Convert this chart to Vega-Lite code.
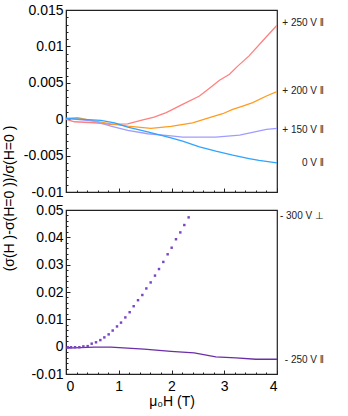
{
  "$schema": "https://vega.github.io/schema/vega-lite/v6.json",
  "padding": {"left": 1, "top": 2, "right": 5, "bottom": 5},
  "background": "white",
  "config": {
    "font": "Liberation Sans",
    "view": {"stroke": "#222", "strokeWidth": 1.2},
    "axis": {"labelFontSize": 14, "labelColor": "#000", "titleFontSize": 14, "titleFontWeight": "normal", "titleColor": "#000", "tickColor": "#222", "domainColor": "#222", "grid": false}
  },
  "datasets": {
    "top": [
      {"x": 0, "y": 0.0, "s": "250"}, {"x": 0.16, "y": -0.00035, "s": "250"}, {"x": 0.54, "y": -0.00049, "s": "250"}, {"x": 0.85, "y": -0.00071, "s": "250"}, {"x": 1.17, "y": -0.00063, "s": "250"}, {"x": 1.42, "y": -0.00016, "s": "250"}, {"x": 1.67, "y": 0.0003, "s": "250"}, {"x": 1.9, "y": 0.0009, "s": "250"}, {"x": 2.21, "y": 0.00204, "s": "250"}, {"x": 2.53, "y": 0.00319, "s": "250"}, {"x": 2.72, "y": 0.00425, "s": "250"}, {"x": 2.91, "y": 0.00535, "s": "250"}, {"x": 3.1, "y": 0.00618, "s": "250"}, {"x": 3.24, "y": 0.00719, "s": "250"}, {"x": 3.47, "y": 0.0087, "s": "250"}, {"x": 3.73, "y": 0.01077, "s": "250"}, {"x": 4.0, "y": 0.0129, "s": "250"},
      {"x": 0, "y": 0.00012, "s": "200"}, {"x": 0.22, "y": 0.0002, "s": "200"}, {"x": 0.54, "y": -0.00026, "s": "200"}, {"x": 0.85, "y": -0.00063, "s": "200"}, {"x": 1.17, "y": -0.00095, "s": "200"}, {"x": 1.61, "y": -0.00126, "s": "200"}, {"x": 1.99, "y": -0.001, "s": "200"}, {"x": 2.4, "y": -0.00049, "s": "200"}, {"x": 2.72, "y": 0.0002, "s": "200"}, {"x": 2.97, "y": 0.00075, "s": "200"}, {"x": 3.16, "y": 0.00135, "s": "200"}, {"x": 3.35, "y": 0.00181, "s": "200"}, {"x": 3.54, "y": 0.00227, "s": "200"}, {"x": 3.8, "y": 0.00319, "s": "200"}, {"x": 4.0, "y": 0.0038, "s": "200"},
      {"x": 0, "y": 0.0001, "s": "150"}, {"x": 0.54, "y": -0.00026, "s": "150"}, {"x": 0.85, "y": -0.00095, "s": "150"}, {"x": 1.17, "y": -0.00154, "s": "150"}, {"x": 1.55, "y": -0.002, "s": "150"}, {"x": 1.99, "y": -0.0023, "s": "150"}, {"x": 2.21, "y": -0.00246, "s": "150"}, {"x": 2.84, "y": -0.00246, "s": "150"}, {"x": 3.29, "y": -0.0022, "s": "150"}, {"x": 3.8, "y": -0.0014, "s": "150"}, {"x": 4.0, "y": -0.00126, "s": "150"},
      {"x": 0, "y": 0.0001, "s": "0"}, {"x": 0.66, "y": -0.00016, "s": "0"}, {"x": 0.92, "y": -0.00049, "s": "0"}, {"x": 1.17, "y": -0.00108, "s": "0"}, {"x": 1.55, "y": -0.00173, "s": "0"}, {"x": 1.99, "y": -0.00256, "s": "0"}, {"x": 2.21, "y": -0.003, "s": "0"}, {"x": 2.53, "y": -0.0038, "s": "0"}, {"x": 2.84, "y": -0.0044, "s": "0"}, {"x": 3.16, "y": -0.00494, "s": "0"}, {"x": 3.47, "y": -0.0054, "s": "0"}, {"x": 3.66, "y": -0.00567, "s": "0"}, {"x": 4.0, "y": -0.006, "s": "0"}
    ],
    "topLabels": [
      {"x": 4.89, "y": 0.01325, "t": "+ 250 V ‖"},
      {"x": 4.89, "y": 0.00388, "t": "+ 200 V ‖"},
      {"x": 4.89, "y": -0.00146, "t": "+ 150 V ‖"},
      {"x": 4.89, "y": -0.006, "t": "0 V ‖"}
    ],
    "bottomLine": [
      {"x": 0, "y": -0.0005}, {"x": 0.54, "y": -0.0002}, {"x": 0.85, "y": -0.0002}, {"x": 1.48, "y": -0.0009}, {"x": 1.99, "y": -0.0017}, {"x": 2.43, "y": -0.0023}, {"x": 2.84, "y": -0.0037}, {"x": 3.22, "y": -0.0041}, {"x": 3.6, "y": -0.0046}, {"x": 4.0, "y": -0.0046}
    ],
    "bottomDots": [
      {"x": 0.032, "y": -0.0002}, {"x": 0.095, "y": -0.0002}, {"x": 0.171, "y": -0.0002}, {"x": 0.253, "y": -0.0002}, {"x": 0.329, "y": 0.0001}, {"x": 0.411, "y": 0.0002}, {"x": 0.487, "y": 0.0011}, {"x": 0.569, "y": 0.0016}, {"x": 0.651, "y": 0.0024}, {"x": 0.727, "y": 0.0034}, {"x": 0.809, "y": 0.0045}, {"x": 0.885, "y": 0.0059}, {"x": 0.967, "y": 0.0074}, {"x": 1.043, "y": 0.0088}, {"x": 1.125, "y": 0.0107}, {"x": 1.207, "y": 0.0126}, {"x": 1.283, "y": 0.0148}, {"x": 1.365, "y": 0.017}, {"x": 1.447, "y": 0.0189}, {"x": 1.523, "y": 0.0213}, {"x": 1.605, "y": 0.0235}, {"x": 1.687, "y": 0.026}, {"x": 1.763, "y": 0.0284}, {"x": 1.845, "y": 0.031}, {"x": 1.927, "y": 0.0338}, {"x": 2.003, "y": 0.0362}, {"x": 2.085, "y": 0.0393}, {"x": 2.167, "y": 0.0418}, {"x": 2.243, "y": 0.0445}, {"x": 2.325, "y": 0.0473}
    ],
    "bottomLabels": [
      {"x": 4.89, "y": 0.0478, "t": "- 300 V ⊥"},
      {"x": 4.89, "y": -0.0047, "t": "- 250 V ‖"}
    ]
  },
  "vconcat": [
    {
      "width": 211,
      "height": 182,
      "layer": [
        {
          "data": {"name": "top"},
          "mark": {"type": "line", "strokeWidth": 1.3, "clip": true},
          "encoding": {
            "x": {"field": "x", "type": "quantitative", "scale": {"domain": [0, 4], "nice": false, "zero": false},
              "axis": {"values": [0, 1, 2, 3, 4], "labels": false, "tickSize": -4, "title": null, "domain": true}},
            "y": {"field": "y", "type": "quantitative", "scale": {"domain": [-0.01, 0.015], "nice": false, "zero": false},
              "axis": {"values": [-0.01, -0.005, 0, 0.005, 0.01, 0.015], "labelExpr": "'' + datum.value", "tickSize": -4, "labelPadding": 7,
                "title": "(σ(H )-σ(H=0 ))/σ(H=0 )", "titleX": -57, "titleY": 188, "titleAngle": -90, "titleAlign": "center", "titleBaseline": "middle"}},
            "color": {"field": "s", "type": "nominal", "scale": {"domain": ["250", "200", "150", "0"], "range": ["#ff8080", "#ff9c1e", "#9f9cff", "#2ea4ff"]}, "legend": null}
          }
        },
        {
          "data": {"name": "topLabels"},
          "mark": {"type": "text", "align": "right", "baseline": "middle", "fontSize": 10, "color": "#222"},
          "encoding": {
            "x": {"field": "x", "type": "quantitative", "scale": {"domain": [0, 4], "nice": false, "zero": false},
              "axis": {"orient": "bottom", "values": [0.2, 0.4, 0.6, 0.8, 1.2, 1.4, 1.6, 1.8, 2.2, 2.4, 2.6, 2.8, 3.2, 3.4, 3.6, 3.8], "labels": false, "tickSize": -2, "domain": false, "title": null}},
            "y": {"field": "y", "type": "quantitative", "scale": {"domain": [-0.01, 0.015], "nice": false, "zero": false},
              "axis": {"orient": "left", "values": [-0.009, -0.008, -0.007, -0.006, -0.004, -0.003, -0.002, -0.001, 0.001, 0.002, 0.003, 0.004, 0.006, 0.007, 0.008, 0.009, 0.011, 0.012, 0.013, 0.014], "labels": false, "tickSize": -2, "domain": false, "title": null}},
            "text": {"field": "t", "type": "nominal"}
          }
        }
      ],
      "resolve": {"axis": {"x": "independent", "y": "independent"}}
    },
    {
      "width": 211,
      "height": 164,
      "layer": [
        {
          "data": {"name": "bottomLine"},
          "mark": {"type": "line", "strokeWidth": 1.3, "color": "#6a2ea6", "clip": true},
          "encoding": {
            "x": {"field": "x", "type": "quantitative", "scale": {"domain": [0, 4], "nice": false, "zero": false},
              "axis": {"values": [0, 1, 2, 3, 4], "tickSize": -4, "labelPadding": 9, "title": "μ₀H (T)", "titlePadding": 1}},
            "y": {"field": "y", "type": "quantitative", "scale": {"domain": [-0.01, 0.05], "nice": false, "zero": false},
              "axis": {"values": [-0.01, 0, 0.01, 0.02, 0.03, 0.04, 0.05], "labelExpr": "'' + datum.value", "tickSize": -4, "labelPadding": 7, "title": null}}
          }
        },
        {
          "data": {"name": "bottomDots"},
          "mark": {"type": "point", "filled": true, "shape": "square", "size": 6, "color": "#7a45c2", "opacity": 1},
          "encoding": {
            "x": {"field": "x", "type": "quantitative", "scale": {"domain": [0, 4], "nice": false, "zero": false}, "axis": null},
            "y": {"field": "y", "type": "quantitative", "scale": {"domain": [-0.01, 0.05], "nice": false, "zero": false}, "axis": null}
          }
        },
        {
          "data": {"name": "bottomLabels"},
          "mark": {"type": "text", "align": "right", "baseline": "middle", "fontSize": 10, "color": "#222"},
          "encoding": {
            "x": {"field": "x", "type": "quantitative", "scale": {"domain": [0, 4], "nice": false, "zero": false},
              "axis": {"orient": "bottom", "values": [0.2, 0.4, 0.6, 0.8, 1.2, 1.4, 1.6, 1.8, 2.2, 2.4, 2.6, 2.8, 3.2, 3.4, 3.6, 3.8], "labels": false, "tickSize": -2, "domain": false, "title": null}},
            "y": {"field": "y", "type": "quantitative", "scale": {"domain": [-0.01, 0.05], "nice": false, "zero": false},
              "axis": {"orient": "left", "values": [-0.008, -0.006, -0.004, -0.002, 0.002, 0.004, 0.006, 0.008, 0.012, 0.014, 0.016, 0.018, 0.022, 0.024, 0.026, 0.028, 0.032, 0.034, 0.036, 0.038, 0.042, 0.044, 0.046, 0.048], "labels": false, "tickSize": -2, "domain": false, "title": null}},
            "text": {"field": "t", "type": "nominal"}
          }
        }
      ],
      "resolve": {"axis": {"x": "independent", "y": "independent"}}
    }
  ],
  "spacing": 18,
  "bounds": "flush"
}
